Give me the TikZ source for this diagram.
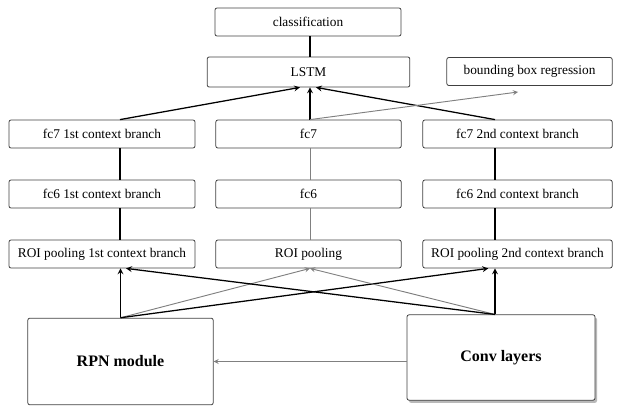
\documentclass[tikz,border=0pt]{standalone}
\usepackage{fontspec}
\setmainfont{Liberation Serif}
\usetikzlibrary{shadows}

\begin{document}
\begin{tikzpicture}[x=0.75pt,y=-0.75pt,
		box/.style={draw=black!75,line width=0.6pt,rounded corners=1.5pt,inner sep=0pt,
			minimum height=21pt,font=\fontsize{10}{12}\selectfont},
		bigbox/.style={box,font=\fontsize{12}{14}\selectfont\bfseries},
		link/.style={line width=0.95pt},
		faint/.style={line width=0.7pt,black!50}]
		\useasboundingbox (0,0) rectangle (630,410);
		\coordinate (colL) at (120,0);
		\coordinate (colC) at (310,0);
		\coordinate (colR) at (495,0);
		\coordinate (bbend) at (518,92);
		\node[box,minimum width=139.5pt] (cls) at (308,22) {classification};
		\node[box,minimum width=152pt,minimum height=22.5pt] (lstm) at (308.5,72) {LSTM};
		\node[box,minimum width=124pt] (bbr) at (529.5,71.5) {bounding box regression};
		\node[box,minimum width=139.5pt] (fcsevenA) at (102,134) {fc7 1st context branch};
		\node[box,minimum width=139pt] (fcseven) at (308.5,134) {fc7};
		\node[box,minimum width=142pt] (fcsevenB) at (517.5,134) {fc7 2nd context branch};
		\node[box,minimum width=139.5pt] (fcsixA) at (102,194) {fc6 1st context branch};
		\node[box,minimum width=139pt] (fcsix) at (308.5,194) {fc6};
		\node[box,minimum width=142pt] (fcsixB) at (517.5,194) {fc6 2nd context branch};
		\node[box,minimum width=139.5pt] (roiA) at (102,254) {ROI pooling 1st context branch};
		\node[box,minimum width=139pt] (roi) at (308.5,254) {ROI pooling};
		\node[box,minimum width=142pt] (roiB) at (517.5,254) {ROI pooling 2nd context branch};
		\node[bigbox,minimum width=139pt,minimum height=65pt] (rpn) at (120.5,361.5) {RPN module};
		\node[bigbox,fill=white,minimum width=141pt,minimum height=64pt,
			drop shadow={shadow xshift=1.5pt,shadow yshift=-2pt,opacity=0.55}] (conv) at (501,357.5) {Conv layers};
		\draw[link] (lstm.north -| colC) -- (cls.south -| colC);
		\draw[link,-stealth] (fcsevenA.north -| colL) -- ([xshift=-6.4pt]lstm.south);
		\draw[link,-stealth] (fcseven.north -| colC) -- (lstm.south -| colC);
		\draw[link,-stealth] (fcsevenB.north -| colR) -- ([xshift=5.6pt]lstm.south);
		\draw[faint,-stealth] (fcseven.north -| colC) -- (bbend);
		\draw[link] (fcsixA.north -| colL) -- (fcsevenA.south -| colL);
		\draw[faint] (fcsix.north -| colC) -- (fcseven.south -| colC);
		\draw[link] (fcsixB.north -| colR) -- (fcsevenB.south -| colR);
		\draw[link] (roiA.north -| colL) -- (fcsixA.south -| colL);
		\draw[faint] (roi.north -| colC) -- (fcsix.south -| colC);
		\draw[link] (roiB.north -| colR) -- (fcsixB.south -| colR);
		\draw[link,-stealth] (rpn.north) -- (roiA.south -| rpn.north);
		\draw[faint,-stealth] (rpn.north) -- (roi.south -| colC);
		\draw[link,-stealth] (rpn.north) -- ([xshift=-5pt]roiB.south -| colR);
		\draw[link,-stealth] (conv.north -| colR) -- (roiB.south -| colR);
		\draw[faint,-stealth] (conv.north -| colR) -- (roi.south -| colC);
		\draw[link,-stealth] (conv.north -| colR) -- ([xshift=4.5pt]roiA.south -| colL);
		\draw[faint,-stealth] (conv.west |- rpn.east) -- (rpn.east);
	\end{tikzpicture}
\end{document}
